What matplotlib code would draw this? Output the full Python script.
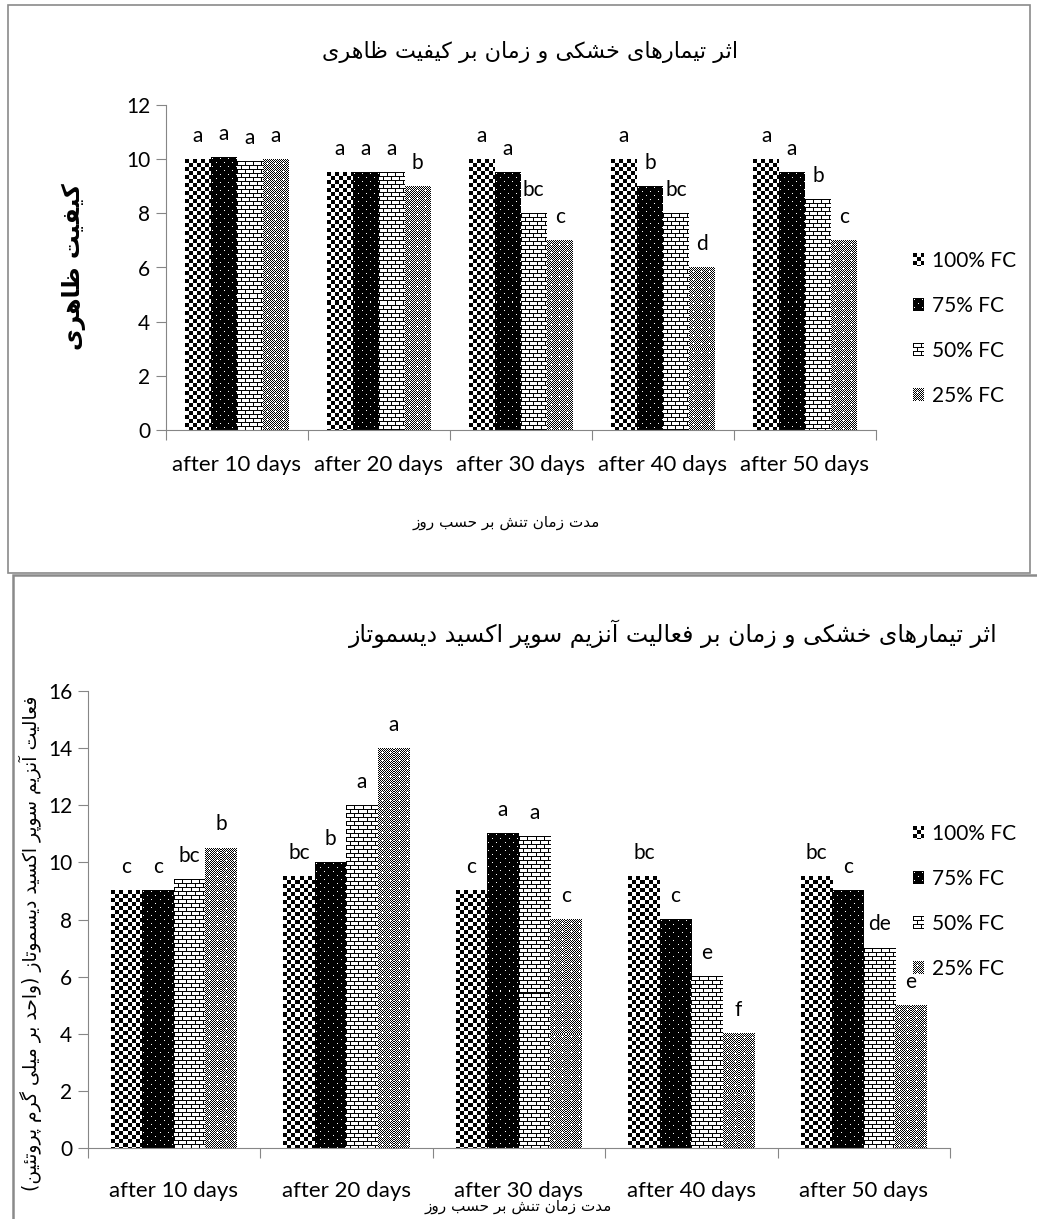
import numpy as np
import matplotlib
matplotlib.use('Agg')
import matplotlib.pyplot as plt
from matplotlib.patches import Rectangle

plt.rcParams['font.family'] = ['Lato', 'DejaVu Sans']

# données
days = ['after 10 days', 'after 20 days', 'after 30 days', 'after 40 days', 'after 50 days']
treatments = ['100% FC', '75% FC', '50% FC', '25% FC']

quality_100 = [10, 9.5, 10, 10, 10]
quality_75 = [10.05, 9.5, 9.5, 9, 9.5]
quality_50 = [9.9, 9.5, 8, 8, 8.5]
quality_25 = [10, 9, 7, 6, 7]
quality_let_100 = ['a', 'a', 'a', 'a', 'a']
quality_let_75 = ['a', 'a', 'a', 'b', 'a']
quality_let_50 = ['a', 'a', 'bc', 'bc', 'b']
quality_let_25 = ['a', 'b', 'c', 'd', 'c']

sod_100 = [9, 9.5, 9, 9.5, 9.5]
sod_75 = [9, 10, 11, 8, 9]
sod_50 = [9.4, 12, 10.9, 6, 7]
sod_25 = [10.5, 14, 8, 4, 5]
sod_let_100 = ['c', 'bc', 'c', 'bc', 'bc']
sod_let_75 = ['c', 'b', 'a', 'c', 'c']
sod_let_50 = ['bc', 'a', 'a', 'e', 'de']
sod_let_25 = ['b', 'a', 'c', 'f', 'e']

title_1 = 'اثر تیمارهای خشکی و زمان بر کیفیت ظاهری'
ylab_1 = 'کیفیت ظاهری'
xlab = 'مدت زمان تنش بر حسب روز'
title_2 = 'اثر تیمارهای خشکی و زمان بر فعالیت آنزیم سوپر اکسید دیسموتاز'
ylab_2 = 'فعالیت آنزیم سوپر اکسید دیسموتاز (واحد بر میلی گرم پروتئین)'


# mise en forme du persan (formes contextuelles + ordre visuel)
AR = {
    '\u0622': ('\uFE81', '\uFE82', None, None),
    '\u0626': ('\uFE89', '\uFE8A', '\uFE8B', '\uFE8C'),
    '\u0627': ('\uFE8D', '\uFE8E', None, None),
    '\u0628': ('\uFE8F', '\uFE90', '\uFE91', '\uFE92'),
    '\u062A': ('\uFE95', '\uFE96', '\uFE97', '\uFE98'),
    '\u062B': ('\uFE99', '\uFE9A', '\uFE9B', '\uFE9C'),
    '\u062D': ('\uFEA1', '\uFEA2', '\uFEA3', '\uFEA4'),
    '\u062E': ('\uFEA5', '\uFEA6', '\uFEA7', '\uFEA8'),
    '\u062F': ('\uFEA9', '\uFEAA', None, None),
    '\u0631': ('\uFEAD', '\uFEAE', None, None),
    '\u0632': ('\uFEAF', '\uFEB0', None, None),
    '\u0633': ('\uFEB1', '\uFEB2', '\uFEB3', '\uFEB4'),
    '\u0634': ('\uFEB5', '\uFEB6', '\uFEB7', '\uFEB8'),
    '\u0637': ('\uFEC1', '\uFEC2', '\uFEC3', '\uFEC4'),
    '\u0638': ('\uFEC5', '\uFEC6', '\uFEC7', '\uFEC8'),
    '\u0639': ('\uFEC9', '\uFECA', '\uFECB', '\uFECC'),
    '\u0641': ('\uFED1', '\uFED2', '\uFED3', '\uFED4'),
    '\u0644': ('\uFEDD', '\uFEDE', '\uFEDF', '\uFEE0'),
    '\u0645': ('\uFEE1', '\uFEE2', '\uFEE3', '\uFEE4'),
    '\u0646': ('\uFEE5', '\uFEE6', '\uFEE7', '\uFEE8'),
    '\u0647': ('\uFEE9', '\uFEEA', '\uFEEB', '\uFEEC'),
    '\u0648': ('\uFEED', '\uFEEE', None, None),
    '\u067E': ('\uFB56', '\uFB57', '\uFB58', '\uFB59'),
    '\u06A9': ('\uFB8E', '\uFB8F', '\uFB90', '\uFB91'),
    '\u06AF': ('\uFB92', '\uFB93', '\uFB94', '\uFB95'),
    '\u06CC': ('\uFBFC', '\uFBFD', '\uFBFE', '\uFBFF'),
}


def fa(txt):
    txt = txt.replace('\u064A', '\u06CC').replace('\u0643', '\u06A9')
    out = []
    for i, c in enumerate(txt):
        if c not in AR:
            out.append(c)
            continue
        prev = txt[i - 1] if i > 0 else ''
        nxt = txt[i + 1] if i + 1 < len(txt) else ''
        j_prev = prev in AR and AR[prev][2] is not None
        j_next = AR[c][2] is not None and nxt in AR
        iso, fin, ini, med = AR[c]
        if j_prev and j_next:
            out.append(med)
        elif j_prev:
            out.append(fin)
        elif j_next:
            out.append(ini)
        else:
            out.append(iso)
    mirror = {'(': ')', ')': '('}
    return ''.join(mirror.get(c, c) for c in reversed(out))


# motifs "Excel" (0 = noir, 1 = blanc)
def tile(name):
    i, j = np.mgrid[0:8, 0:8]
    if name == 'checker':
        t = ((i // 4 + j // 4) % 2).astype(float)
    elif name == 'dots':
        t = np.zeros((8, 8))
        t[1, 1] = 1
        t[5, 5] = 1
    elif name == 'brick':
        t = np.ones((8, 8))
        t[0, :] = 0
        t[4, :] = 0
        t[1:4, 0] = 0
        t[5:8, 4] = 0
    else:
        t = ((i + j) % 2).astype(float)
        t[3, 4] = t[4, 3] = t[4, 4] = t[4, 5] = t[5, 4] = 1
    return t


def pattern(name, h, w):
    t = tile(name)
    return np.tile(t, (h // 8 + 2, w // 8 + 2))[:h, :w]


motifs = ['checker', 'dots', 'brick', 'grey']
grey = '#868686'

W, H = 1037, 1219
fig = plt.figure(figsize=(W / 100, H / 100), dpi=100)

# cadres
fig.add_artist(Rectangle((8 / W, 1 - 573 / H), 1022 / W, 568 / H, transform=fig.transFigure,
                         fill=False, edgecolor='#8a8a8a', lw=1.2))
fig.add_artist(Rectangle((13 / W, -0.02), 1.1, 1 - 575 / H + 0.02, transform=fig.transFigure,
                         fill=False, edgecolor='#8a8a8a', lw=1.8))

ax1 = fig.add_axes([165.6 / W, 1 - 430 / H, (876 - 165.6) / W, (430 - 105) / H])
ax2 = fig.add_axes([87.5 / W, 1 - 1148 / H, (950 - 87.5) / W, (1148 - 691) / H])


def draw_chart(ax, series, letters, ymax, labpad, leg_top):
    x = np.arange(len(days))
    bw = 0.73 / 4
    ax.set_xlim(-0.5, len(days) - 0.5)
    ax.set_ylim(0, ymax)
    conts = []
    for k, (vals, lets) in enumerate(zip(series, letters)):
        bars = ax.bar(x + (k - 1.5) * bw, vals, bw, color='white', edgecolor='none',
                      label=treatments[k], zorder=1)
        conts.append(bars)
        for b, lt in zip(bars, lets):
            ax.annotate(lt, (b.get_x() + b.get_width() / 2, b.get_height()),
                        xytext=(0, 17), textcoords='offset points',
                        ha='center', va='center', fontsize=15)
    # remplissage des barres avec les motifs
    for bars, m in zip(conts, motifs):
        for b in bars:
            x0, x1 = b.get_x(), b.get_x() + b.get_width()
            y1 = b.get_height()
            (p0, q0), (p1, q1) = ax.transData.transform([(x0, 0), (x1, y1)])
            w = max(int(round(p1 - p0)), 1)
            h = max(int(round(q1 - q0)), 1)
            ax.imshow(pattern(m, h, w), extent=(x0, x1, 0, y1), origin='upper',
                      cmap='gray', vmin=0, vmax=1, interpolation='nearest',
                      aspect='auto', zorder=2)
    ax.set_xlim(-0.5, len(days) - 0.5)
    ax.set_ylim(0, ymax)
    ax.set_yticks(np.arange(0, ymax + 1, 2))
    ax.set_xticks(np.arange(len(days) + 1) - 0.5)
    ax.set_xticklabels([])
    ax.set_xticks(x, minor=True)
    ax.set_xticklabels(days, minor=True, fontsize=16)
    ax.tick_params(axis='x', which='minor', length=0, pad=labpad)
    ax.tick_params(axis='x', which='major', length=7, color=grey)
    ax.tick_params(axis='y', length=7, color=grey, labelsize=15, pad=4)
    for s in ['top', 'right']:
        ax.spines[s].set_visible(False)
    for s in ['left', 'bottom']:
        ax.spines[s].set_color(grey)
        ax.spines[s].set_zorder(3)
    leg = ax.legend(loc='upper left', bbox_to_anchor=(913 / W, 1 - leg_top / H),
                    bbox_transform=fig.transFigure, frameon=False, fontsize=15,
                    handlelength=0.55, handleheight=0.55, handletextpad=0.35,
                    labelspacing=1.2, borderpad=0, borderaxespad=0)
    return leg


leg1 = draw_chart(ax1, [quality_100, quality_75, quality_50, quality_25],
                  [quality_let_100, quality_let_75, quality_let_50, quality_let_25], 12, 18, 251)
leg2 = draw_chart(ax2, [sod_100, sod_75, sod_50, sod_25],
                  [sod_let_100, sod_let_75, sod_let_50, sod_let_25], 16, 24, 824)

fa_font = 'DejaVu Sans'
fig.text(530 / W, 1 - 52 / H, fa(title_1), ha='center', va='center', fontsize=16, family=fa_font)
fig.text(74 / W, 1 - 267 / H, fa(ylab_1), ha='center', va='center', fontsize=17,
         fontweight='bold', rotation=90, family=fa_font)
fig.text(506 / W, 1 - 523 / H, fa(xlab), ha='center', va='center', fontsize=11, family=fa_font)
fig.text(673 / W, 1 - 634 / H, fa(title_2), ha='center', va='center', fontsize=17, family=fa_font)
fig.text(30 / W, 1 - 943 / H, fa(ylab_2), ha='center', va='center', fontsize=13.5,
         rotation=90, family=fa_font)
fig.text(518 / W, 1 - 1207 / H, fa(xlab), ha='center', va='center', fontsize=11, family=fa_font)

# motifs dans la légende
fig.canvas.draw()
for leg in (leg1, leg2):
    for hnd, m in zip(leg.legend_handles, motifs):
        bb = hnd.get_window_extent()
        w = max(int(round(bb.width)), 1)
        h = max(int(round(bb.height)), 1)
        fig.figimage(pattern(m, h, w), xo=int(round(bb.x0)), yo=int(round(bb.y0)),
                     origin='upper', cmap='gray', vmin=0, vmax=1, zorder=10)

fig.savefig('out.png', dpi=100)
